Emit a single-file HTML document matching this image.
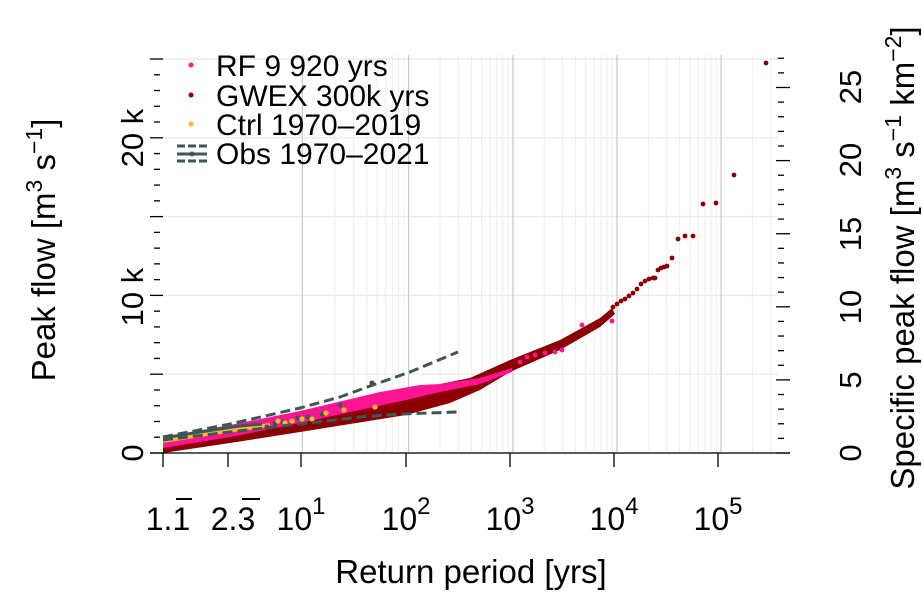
<!DOCTYPE html>
<html><head><meta charset="utf-8"><style>
html,body{margin:0;padding:0;background:#fff}
svg{display:block;font-family:"Liberation Sans",Arial,sans-serif}
</style></head><body>
<svg id="s" width="922" height="595" viewBox="0 0 922 595" xmlns="http://www.w3.org/2000/svg">
<g id="grid"></g>
<g id="data"></g>
<g id="axes" stroke="#000" stroke-width="1.3"></g>
<g font-size="31" fill="#000">
  <text x="143" y="453" transform="rotate(-90 143 453)" text-anchor="middle">0</text>
  <text x="143" y="297" transform="rotate(-90 143 297)" text-anchor="middle">10 k</text>
  <text x="143" y="138" transform="rotate(-90 143 138)" text-anchor="middle">20 k</text>
  <text x="55" y="250" font-size="33" transform="rotate(-90 55 250)" text-anchor="middle">Peak flow [m<tspan dy="-13" font-size="23">3</tspan><tspan dy="13"> s</tspan><tspan dy="-13" font-size="23">−1</tspan><tspan dy="13">]</tspan></text>
  <text x="861" y="453" transform="rotate(-90 861 453)" text-anchor="middle">0</text>
  <text x="861" y="380" transform="rotate(-90 861 380)" text-anchor="middle">5</text>
  <text x="861" y="307" transform="rotate(-90 861 307)" text-anchor="middle">10</text>
  <text x="861" y="234" transform="rotate(-90 861 234)" text-anchor="middle">15</text>
  <text x="861" y="160" transform="rotate(-90 861 160)" text-anchor="middle">20</text>
  <text x="861" y="87" transform="rotate(-90 861 87)" text-anchor="middle">25</text>
  <text x="914" y="258" font-size="33" transform="rotate(-90 914 258)" text-anchor="middle">Specific peak flow [m<tspan dy="-13" font-size="23">3</tspan><tspan dy="13"> s</tspan><tspan dy="-13" font-size="23">−1</tspan><tspan dy="13"> km</tspan><tspan dy="-13" font-size="23">−2</tspan><tspan dy="13">]</tspan></text>
  <text x="168" y="530" font-size="32" text-anchor="middle">1.1</text>
  <line x1="176" y1="499" x2="192" y2="499" stroke="#000" stroke-width="2"/>
  <text x="233" y="530" font-size="32" text-anchor="middle">2.3</text>
  <line x1="242" y1="499" x2="260" y2="499" stroke="#000" stroke-width="2"/>
  <text x="301" y="530" font-size="32" text-anchor="middle">10<tspan dy="-16" font-size="24">1</tspan></text>
  <text x="406" y="530" font-size="32" text-anchor="middle">10<tspan dy="-16" font-size="24">2</tspan></text>
  <text x="510" y="530" font-size="32" text-anchor="middle">10<tspan dy="-16" font-size="24">3</tspan></text>
  <text x="614" y="530" font-size="32" text-anchor="middle">10<tspan dy="-16" font-size="24">4</tspan></text>
  <text x="718" y="530" font-size="32" text-anchor="middle">10<tspan dy="-16" font-size="24">5</tspan></text>
  <text x="471" y="583" font-size="33" text-anchor="middle">Return period [yrs]</text>
</g>
<g id="legend" font-size="30">
  <circle cx="191" cy="65" r="2.5" fill="#ff1493"/>
  <text x="216" y="76">RF 9 920 yrs</text>
  <circle cx="191" cy="95" r="2.5" fill="#8b0000"/>
  <text x="216" y="106">GWEX 300k yrs</text>
  <circle cx="191" cy="124" r="2.5" fill="#ffb82e"/>
  <text x="216" y="135">Ctrl 1970–2019</text>
  <line x1="177" y1="146" x2="207" y2="146" stroke="#3d5656" stroke-width="3" stroke-dasharray="8,3"/>
  <line x1="177" y1="161" x2="207" y2="161" stroke="#3d5656" stroke-width="3" stroke-dasharray="8,3"/>
  <line x1="177" y1="154" x2="207" y2="154" stroke="#3d5656" stroke-width="3"/>
  <circle cx="192" cy="154" r="2.5" fill="#3d5656"/>
  <text x="216" y="164">Obs 1970–2021</text>
</g>
</svg>
<script>
const NS="http://www.w3.org/2000/svg";
function el(p,t,a){const e=document.createElementNS(NS,t);for(const k in a)e.setAttribute(k,a[k]);p.appendChild(e);return e;}
const gx=T=>163+(-Math.log(-Math.log(1-1/T))+0.834)*45.2;
const grid=document.getElementById('grid'),ax=document.getElementById('axes'),data=document.getElementById('data');
for(let k=0;k<=25;k+=5){const y=453-k*15.76;el(grid,'line',{x1:163,x2:778,y1:y,y2:y,stroke:'#ececec','stroke-width':1.5});}
for(let d=1;d<=5;d++){for(let m=2;m<=9;m++){const T=m*Math.pow(10,d);const x=gx(T);if(x<778)el(grid,'line',{x1:x,x2:x,y1:55,y2:453,stroke:'#eeeeee','stroke-width':1});}
 const x=gx(Math.pow(10,d));el(grid,'line',{x1:x,x2:x,y1:55,y2:453,stroke:'#cccccc','stroke-width':1.3});}
el(ax,'line',{x1:150,x2:790,y1:453,y2:453});
for(let k=0;k<=25;k++){const y=453-k*15.76;const maj=k%5==0;el(ax,'line',{x1:maj?150:154,x2:maj?163:160,y1:y,y2:y});}
for(let k=0;k<=27;k++){const y=453-k*14.62;const maj=k%5==0;el(ax,'line',{x1:maj?776:778,x2:maj?790:784,y1:y,y2:y});}
[163,228,301,406,510,614,718].forEach(x=>el(ax,'line',{x1:x,x2:x,y1:453,y2:467}));
el(data,'polygon',{points:'163,453 230,443 300,432 406,415 450,403 480,390 510,372 560,350 600,327 615,314 612,308 600,318 560,340 510,360 470,378 430,386 406,394 300,420 230,432 163,443',fill:'#8b0000'});
el(data,'polygon',{points:'163,448 230,437 300,423 360,410 406,400 440,392 480,384 512,372 512,368 480,378 440,384 420,385 380,392 300,411 230,425 163,437',fill:'#ff1493'});
const drk=[[613,307],[617,304],[621,301],[625,299],[629,296],[633,293],[637,289],[641,284],[645,281],[649,279],[653,278],[655,278],[658,270],[661,268],[664,267],[667,266],[672,258],[678,239],[685,236],[693,236],[703,204],[716,203],[734,175],[766,63]];
drk.forEach(p=>el(data,'circle',{cx:p[0],cy:p[1],r:2.4,fill:'#8b0000'}));
[[520,362],[527,357],[535,355],[545,353],[555,352],[562,350],[582,325],[612,321]].forEach(p=>el(data,'circle',{cx:p[0],cy:p[1],r:2.4,fill:'#ff1493'}));
el(data,'polyline',{points:'163,441 200,435 240,429 270,425',fill:'none',stroke:'#ffb82e','stroke-width':4});
el(data,'polyline',{points:'163,438 200,432 240,426 262,424',fill:'none',stroke:'#3d5656','stroke-width':3});
[[267,427],[275,423],[283,422],[298,418],[308,417],[322,414],[340,405],[372,383]].forEach(p=>el(data,'circle',{cx:p[0],cy:p[1],r:2.6,fill:'#3d5656'}));
[[278,421],[285,423],[292,421],[302,419],[312,419],[326,413],[344,410],[375,407]].forEach(p=>el(data,'circle',{cx:p[0],cy:p[1],r:2.6,fill:'#ffb82e'}));
el(data,'polyline',{points:'163,437 230,424 300,408 340,397 373,385 410,372 458,352',fill:'none',stroke:'#3d5656','stroke-width':3,'stroke-dasharray':'10,5'});
el(data,'polyline',{points:'163,440 230,432 300,424 360,417 400,414 458,412',fill:'none',stroke:'#3d5656','stroke-width':3,'stroke-dasharray':'10,5'});
</script>
</body></html>
